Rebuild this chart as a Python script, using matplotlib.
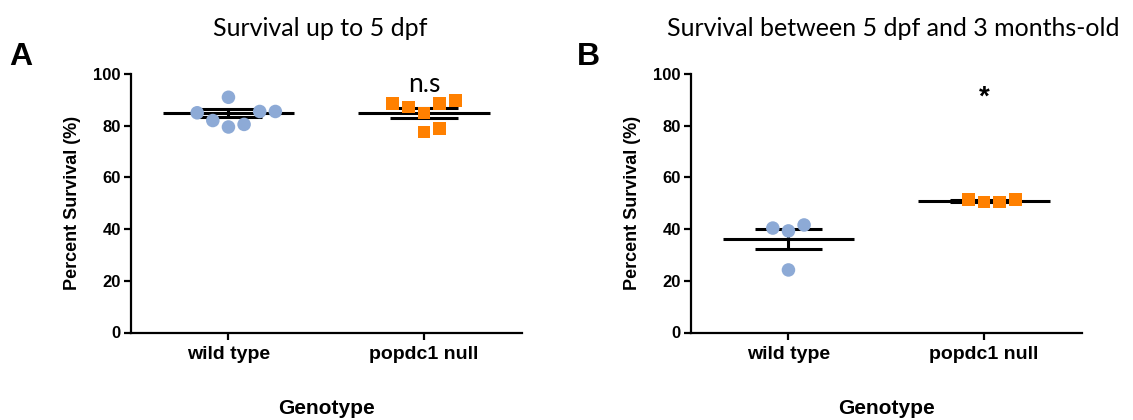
import matplotlib
matplotlib.use("Agg")
import matplotlib.pyplot as plt
import numpy as np

# ---------------- data ----------------
categories = ["wild type", "popdc1 null"]

# Panel A: survival up to 5 dpf (%)
a_wt = [85, 91, 82, 79.5, 80.5, 85.5, 85.5]
a_null = [88.6, 87.2, 84.9, 88.6, 89.6, 77.6, 78.8]
a_mean = [84.8, 85.0]
a_sem = [1.5, 1.9]

# Panel B: survival between 5 dpf and 3 months-old (%)
b_wt = [40.4, 39.3, 41.6, 24.2]
b_null = [51.6, 50.5, 50.5, 51.6]
b_mean = [36.2, 51.0]
b_sem = [4.0, 0.4]

titles = ["Survival up to 5 dpf", "Survival between 5 dpf and 3 months-old"]
panel_letters = ["A", "B"]
annotations = ["n.s", "*"]
yticks = [0, 20, 40, 60, 80, 100]

# ---------------- style ----------------
blue = "#8DAAD6"
orange = "#FF8000"
# horizontal spread of points (GraphPad-like scatter), in steps
a_wt_steps = [-2, 0, -1, 0, 1, 2, 3]
a_null_steps = [-2, -1, 0, 1, 2, 0, 1]
b_wt_steps = [-1, 0, 1, 0]
b_null_steps = [-1, 0, 1, 2]
step = 0.08

W, H = 1133, 420
fig = plt.figure(figsize=(W / 100, H / 100), dpi=100)

bold_font = "Liberation Sans"
title_font = "Lato"

panels = [
    (a_wt, a_null, a_mean, a_sem, a_wt_steps, a_null_steps),
    (b_wt, b_null, b_mean, b_sem, b_wt_steps, b_null_steps),
]
lefts = [130.7 / W, 690.7 / W]
bottom = (H - 332.5) / H
height = (332.5 - 74) / H
width = 391.0 / W
title_x = [320 / W, 893 / W]

for i, (wt, nl, means, sems, wsteps, nsteps) in enumerate(panels):
    ax = fig.add_axes([lefts[i], bottom, width, height])
    ax.set_xlim(-0.5, 1.5)
    ax.set_ylim(0, 100)

    # mean lines and SEM bars
    for k in range(2):
        m, s = means[k], sems[k]
        ax.hlines(m, k - 0.336, k + 0.336, color="black", lw=2.2, zorder=2)
        ax.hlines([m - s, m + s], k - 0.172, k + 0.172, color="black", lw=2.2, zorder=2)
        ax.vlines(k, m - s, m + s, color="black", lw=2.2, zorder=2)

    xs_wt = [0 + st * step for st in wsteps]
    xs_nl = [1 + st * step for st in nsteps]
    ax.scatter(xs_wt, wt, s=95, marker="o", color=blue, edgecolors="none", zorder=3, clip_on=False)
    ax.scatter(xs_nl, nl, s=85, marker="s", color=orange, edgecolors="none", zorder=3, clip_on=False)

    # axes styling
    for sp in ["top", "right"]:
        ax.spines[sp].set_visible(False)
    for sp in ["left", "bottom"]:
        ax.spines[sp].set_linewidth(1.6)
    ax.set_xticks([0, 1])
    ax.set_xticklabels(categories, fontfamily=bold_font, fontweight="bold", fontsize=14)
    ax.set_yticks(yticks)
    ax.set_yticklabels([str(v) for v in yticks], fontfamily=bold_font, fontweight="bold", fontsize=12)
    ax.tick_params(axis="both", direction="out", width=1.6, length=5, pad=2)
    ax.tick_params(axis="x", pad=5)
    ax.set_ylabel("Percent Survival (%)", fontfamily=bold_font, fontweight="bold", fontsize=13, labelpad=9)
    ax.set_xlabel("Genotype", fontfamily=bold_font, fontweight="bold", fontsize=15, labelpad=26)
    ax.patch.set_visible(False)

    # title
    fig.text(title_x[i], 1 - 28 / H, titles[i], fontfamily=title_font, fontsize=18,
             ha="center", va="center")

# panel letters & annotations
fig.text(21 / W, 1 - 57 / H, panel_letters[0], fontfamily=bold_font, fontweight="bold",
         fontsize=23, ha="center", va="center")
fig.text(588 / W, 1 - 57 / H, panel_letters[1], fontfamily=bold_font, fontweight="bold",
         fontsize=23, ha="center", va="center")
axs = fig.axes
axs[0].text(1, 96, annotations[0], fontfamily=title_font, fontsize=19, ha="center", va="center")
axs[1].text(1, 91, annotations[1], fontfamily=bold_font, fontweight="bold", fontsize=20, ha="center", va="center")

fig.savefig("out.png", dpi=100)
